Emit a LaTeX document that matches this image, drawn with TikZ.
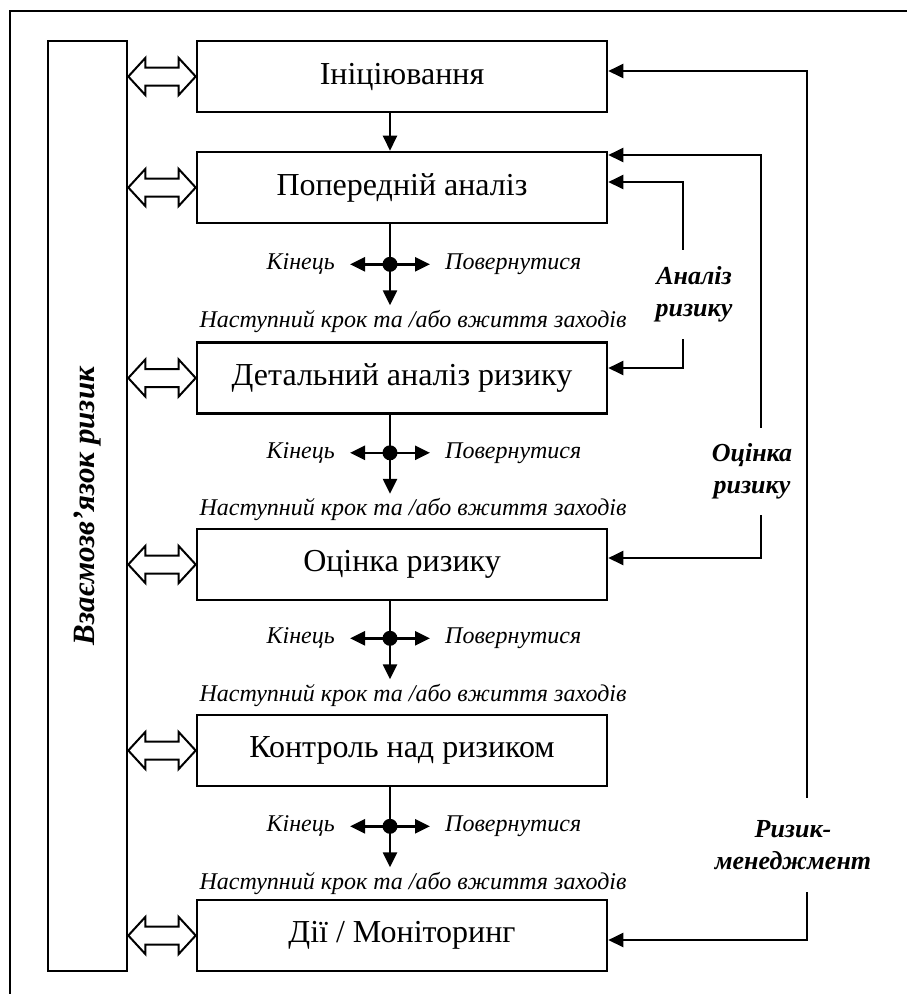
\documentclass[tikz,border=0pt]{standalone}
\usepackage{fontspec}
\setmainfont{Liberation Serif}
\usetikzlibrary{arrows.meta,calc}

\begin{document}
\begin{tikzpicture}[x=1pt,y=-1pt,
  >={Triangle[length=15pt,width=14pt]},
  stage/.style={draw,line width=2.6pt,minimum width=410pt,minimum height=71pt,
    inner sep=0pt,font=\fontsize{32}{36}\selectfont},
  lab/.style={inner sep=0pt,font=\fontsize{24}{28}\selectfont\itshape},
  side/.style={align=center,inner sep=0pt,
    font=\fontsize{26}{32}\selectfont\bfseries\itshape},
  link/.style={line width=2.4pt}]

  \useasboundingbox (0,0) rectangle (907,994);
  \draw[line width=2.2pt] (10,994) -- (10,11) -- (907,11); % frame

  \newcommand\X{402};
  % hollow double arrow from the side box to stage #1
  \newcommand\dbl[1]{\draw[line width=2pt,line join=miter]
    (wide.east |- #1.west) -- ++(17,-18.5) -- ++(0,9.5)
    -- ($(#1.west)+(-17,-9)$) -- ++(0,-9.5) -- (#1.west)
    -- ++(-17,18.5) -- ++(0,-9.5)
    -- ($(wide.east |- #1.west)+(17,9)$) -- ++(0,9.5) -- cycle;}
  % junction under stage #1, #2 = gap below the box
  \newcommand\splitter[2]{%
    \coordinate (j#1) at ([xshift=-12pt,yshift=-#2pt]s#1.south);
    \draw[link] ([xshift=-12pt]s#1.south) -- (j#1);
    \fill (j#1) circle (7.5);
    \node[lab,anchor=east,inner xsep=15pt] (e#1) at ([xshift=-40pt]j#1) {Кінець};
    \node[lab,anchor=west,inner xsep=15pt] (r#1) at ([xshift=40pt]j#1) {Повернутися};
    \node[lab] (n#1) at ([xshift=23pt,yshift=-57pt]j#1) {Наступний крок та /або вжиття заходів};
    \draw[link,->] (j#1) -- (e#1.east);
    \draw[link,->] (j#1) -- (r#1.west);
    \draw[link,->] (j#1) -- ++(0,41);
  }

  \node[stage] (s1) at (\X, 76.5) {Ініціювання};
  \node[stage] (s2) at (\X, 187.5) {Попередній аналіз};
  \node[stage] (s3) at (\X, 378) {Детальний аналіз ризику};
  \node[stage] (s4) at (\X, 564.5) {Оцінка ризику};
  \node[stage] (s5) at (\X, 750.5) {Контроль над ризиком};
  \node[stage] (s6) at (\X, 935.5) {Дії / Моніторинг};

  \node[draw,line width=2.6pt,minimum width=79pt,minimum height=930pt] (wide) at (87.5,506) {};
  \node[rotate=90,font=\fontsize{31}{34}\selectfont\bfseries\itshape] (wtext) at (wide) {Взаємозв’язок ризик};

  \dbl{s1}
  \dbl{s2}
  \dbl{s3}
  \dbl{s4}
  \dbl{s5}
  \dbl{s6}

  \draw[link,->] ([xshift=-12pt]s1.south) -- ([xshift=-12pt]s2.north); % s1->s2
  \splitter{2}{40}
  \splitter{3}{38}
  \splitter{4}{37}
  \splitter{5}{39}

  % feedback loops on the right
  \node[side,minimum height=89pt] (arl) at (694,294.5) {Аналіз\\ризику};
  \draw[link,->] ([xshift=-11pt]arl.north) |- ([yshift=5.5pt]s2.east);
  \draw[link,->] ([xshift=-11pt]arl.south) |- ([yshift=10pt]s3.east);

  \node[side,minimum height=87pt] (orl) at (752,471.5) {Оцінка\\ризику};
  \draw[link,->] ([xshift=9pt]orl.north) |- ([yshift=32.5pt]s2.east);
  \draw[link,->] ([xshift=9pt]orl.south) |- ([yshift=6.5pt]s4.east);

  \node[side,minimum height=94pt] (rm) at (793,845) {Ризик-\\менеджмент};
  \draw[link,->] ([xshift=14pt]rm.north) |- ([yshift=5.5pt]s1.east);
  \draw[link,->] ([xshift=14pt]rm.south) |- ([yshift=-4.5pt]s6.east);
\end{tikzpicture}
\end{document}
